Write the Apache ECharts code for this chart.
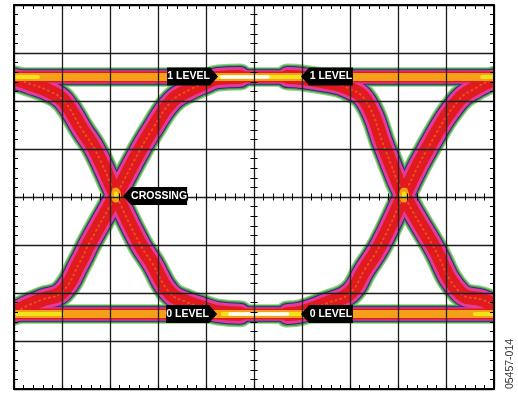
<!DOCTYPE html>
<html><head><meta charset="utf-8">
<script src="https://cdn.jsdelivr.net/npm/echarts@6/dist/echarts.min.js"></script>
<style>html,body{margin:0;padding:0;background:#fff}#c{width:518px;height:393px}</style>
</head><body><div id="c"></div>
<script>
// ---- data (units: horizontal / vertical screen divisions) ----
const xRange = [0, 10];
const yRange = [0, 8];
const oneLevel  = [[-0.5, 6.5], [10.5, 6.5]];
const zeroLevel = [[-0.5, 1.56], [10.5, 1.56]];
const fallingEdgeA = [[-0.5,6.5],[0,6.46],[0.33,6.36],[0.75,6.2],[1.04,6.0],[1.42,5.40],[1.69,4.98],[2.125,4.04],[2.625,3.02],[2.875,2.63],[3.25,2.0],[3.625,1.8],[3.92,1.7],[4.25,1.6],[4.71,1.57]];
const risingEdgeA  = [[-0.25,1.56],[0,1.60],[0.27,1.73],[0.58,1.86],[1.0,2.02],[1.375,2.65],[1.58,3.06],[2.125,4.04],[2.625,4.98],[2.875,5.40],[3.29,6.0],[3.67,6.24],[3.98,6.38],[4.25,6.48],[4.71,6.5]];
const fallingEdgeB = [[5.7,6.5],[6.0,6.48],[6.5,6.4],[6.92,6.29],[7.33,6.0],[7.73,5.0],[8.125,4.04],[8.72,3.0],[9.3,2.0],[9.75,1.86],[10.0,1.76],[10.4,1.62],[10.8,1.56]];
const risingEdgeB  = [[5.7,1.56],[6.0,1.60],[6.5,1.78],[7.0,2.0],[7.3,2.48],[7.63,3.0],[8.125,4.04],[8.6,4.98],[9.25,6.0],[9.65,6.29],[10.0,6.45],[10.4,6.5]];
const crossings = [[2.125,4.04],[8.125,4.04]];
const oneLevelYellow  = [[[-0.2,6.5],[0.5,6.5]],[[4.25,6.5],[5.96,6.5]],[[9.75,6.5],[10.3,6.5]]];
const oneLevelWhite   = [[[4.33,6.5],[5.29,6.5]]];
const zeroLevelYellow = [[[-0.2,1.56],[1.0,1.56]],[[4.35,1.56],[5.95,1.56]],[[9.6,1.56],[10.3,1.56]]];
const zeroLevelWhite  = [[[4.5,1.56],[5.7,1.56]]];
const tagsRightText = ['1 LEVEL', '0 LEVEL'];
const tagsRightPos  = [[3.72,6.51],[3.70,1.56]];
const tagsLeftText  = ['1 LEVEL', '0 LEVEL'];
const tagsLeftPos   = [[6.52,6.51],[6.52,1.56]];
const crossingTagText = 'CROSSING';
const crossingTagPos  = [2.94,4.02];
const figureCode = '05457-014';

// ---- build ----
const edges = [fallingEdgeA, risingEdgeA, fallingEdgeB, risingEdgeB];
const levels = [oneLevel, zeroLevel];
function trace(data, color, width, z, extra) {
  return {type:'line', data, z, symbol:'none', showSymbol:false, smooth:0.45, silent:true, animation:false,
    lineStyle:Object.assign({color, width, cap:'round', join:'round'}, extra||{})};
}
const series = [];
const layers = [
  ['#93cf83', 27, 19.5, 1],
  ['#46a046', 24.5, 18, 2],
  ['#2d2a8c', 22, 15.5, 3],
  ['#e33b98', 20, 13.5, 4],
  ['#e01a1f', 14, 11, 5]
];
layers.forEach(([c, we, wl, z]) => {
  edges.forEach(d => series.push(trace(d, c, we, z)));
  levels.forEach(d => series.push(trace(d, c, wl, z)));
});
levels.forEach(d => series.push(trace(d, '#f6a01a', 8, 6)));
edges.forEach(d => series.push(trace(d, '#f6a01a', 2, 6, {type:[1,4], opacity:0.4})));
oneLevelYellow.concat(zeroLevelYellow).forEach(d => series.push(trace(d, '#f2e21a', 4, 7)));
oneLevelWhite.concat(zeroLevelWhite).forEach(d => series.push(trace(d, '#ffffff', 3.5, 8)));
series.push({type:'scatter', data:crossings, z:7, silent:true, animation:false, symbol:'circle', symbolSize:[10,15], itemStyle:{color:'#f6a01a', opacity:1}});
series.push({type:'scatter', data:crossings, z:7, silent:true, animation:false, symbol:'circle', symbolSize:[4,7], itemStyle:{color:'#f2e21a', opacity:1}});

const tagLabel = (dx) => ({show:true, position:'inside', offset:[dx,0], color:'#fff', fontWeight:'bold', fontSize:10.5, fontFamily:'"Liberation Sans", Arial, sans-serif', formatter:p=>p.name});
series.push({type:'scatter', z:12, silent:true, animation:false, clip:false,
  symbol:'path://M0 0H43L51 9L43 18H0Z', symbolSize:[51,18], itemStyle:{color:'#000', opacity:1},
  label:tagLabel(-4), data:tagsRightText.map((t,i)=>({name:t, value:tagsRightPos[i]}))});
series.push({type:'scatter', z:12, silent:true, animation:false, clip:false,
  symbol:'path://M8 0H51V18H8L0 9Z', symbolSize:[52,18], itemStyle:{color:'#000', opacity:1},
  label:tagLabel(4), data:tagsLeftText.map((t,i)=>({name:t, value:tagsLeftPos[i]}))});
series.push({type:'scatter', z:12, silent:true, animation:false, clip:false,
  symbol:'path://M8 0H64V18H8L0 9Z', symbolSize:[64,18], itemStyle:{color:'#000', opacity:1},
  label:tagLabel(4), data:[{name:crossingTagText, value:crossingTagPos}]});

const gridLine = {color:'#1e1e1e', width:1.3};
function axis(kind, pos, opts) {
  const r = kind === 'x' ? xRange : yRange;
  return Object.assign({type:'value', min:r[0], max:r[1], interval:1, position:pos, z:10,
    axisLine:{show:true, onZero:false, lineStyle:{color:'#000', width:2}},
    axisTick:{show:true, inside:true, length:4, lineStyle:{color:'#000', width:1}},
    minorTick:{show:true, splitNumber:5, length:4, lineStyle:{color:'#000', width:1}},
    axisLabel:{show:false}, splitLine:{show:false}}, opts||{});
}
const centerTick = (inside) => ({axisLine:{show:false, onZero:false},
  axisTick:{show:true, inside, length:3.5, lineStyle:{color:'#000', width:1}},
  minorTick:{show:true, splitNumber:5, length:3.5, lineStyle:{color:'#000', width:1}}});

const mask = (x, y, w, h) => ({type:'rect', z:9, silent:true, shape:{x, y, width:w, height:h}, style:{fill:'#fff'}});
const option = {
  backgroundColor:'#fff', animation:false,
  grid:{left:14, top:5, width:480, height:384, containLabel:false},
  xAxis:[
    axis('x','bottom',{splitLine:{show:true, lineStyle:gridLine}}),
    axis('x','top'),
    axis('x','bottom',Object.assign({offset:-192}, centerTick(true))),
    axis('x','bottom',Object.assign({offset:-192}, centerTick(false)))
  ],
  yAxis:[
    axis('y','left',{splitLine:{show:true, lineStyle:gridLine}}),
    axis('y','right'),
    axis('y','left',Object.assign({offset:-240}, centerTick(true))),
    axis('y','left',Object.assign({offset:-240}, centerTick(false)))
  ],
  series,
  graphic:[
    mask(0, 0, 13.5, 393), mask(494.5, 0, 23.5, 393), mask(0, 0, 518, 4.5), mask(0, 389.5, 518, 3.5),
    {type:'text', z:12, x:510, y:364, rotation:Math.PI/2, silent:true,
    style:{text:figureCode, fill:'#333', fontSize:10.5, fontFamily:'"Liberation Sans", Arial, sans-serif', align:'center', verticalAlign:'middle'}}]
};
const chart = echarts.init(document.getElementById('c'), null, {renderer:'canvas'});
chart.setOption(option);
</script></body></html>
